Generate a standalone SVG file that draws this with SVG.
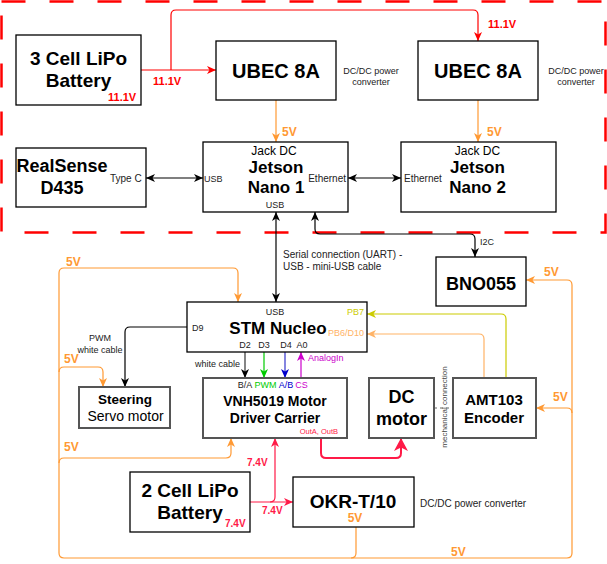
<svg xmlns="http://www.w3.org/2000/svg" width="607" height="564" viewBox="0 0 607 564">
<defs>
<style>
text{font-family:"Liberation Sans",Arial,sans-serif;}
.box{fill:#fff;stroke:#000;stroke-width:1.3;}
.gbox{fill:#fff;stroke:#555;stroke-width:2;}
.t{font-weight:bold;fill:#000;text-anchor:middle;}
.s{font-size:10px;fill:#222;}
.s9{font-size:9px;fill:#222;}
.v5{font-size:12px;font-weight:bold;fill:#FF9933;}
.vr{font-size:11px;font-weight:bold;fill:#FF0000;}
.vc{font-size:10px;font-weight:bold;fill:#FF1A47;}
.ln{fill:none;stroke-width:1.2;}
</style>
<marker id="aK" markerUnits="userSpaceOnUse" markerWidth="10" markerHeight="8" refX="9" refY="4" orient="auto-start-reverse"><path d="M0,0 L9,4 L0,8 L2.5,4 Z" fill="#000"/></marker>
<marker id="aR" markerUnits="userSpaceOnUse" markerWidth="10" markerHeight="8" refX="9" refY="4" orient="auto-start-reverse"><path d="M0,0 L9,4 L0,8 L2.5,4 Z" fill="#FF0000"/></marker>
<marker id="aC" markerUnits="userSpaceOnUse" markerWidth="10" markerHeight="8" refX="9" refY="4" orient="auto-start-reverse"><path d="M0,0 L9,4 L0,8 L2.5,4 Z" fill="#FF1A47"/></marker>
<marker id="aCb" markerUnits="userSpaceOnUse" markerWidth="14" markerHeight="14" refX="13" refY="7" orient="auto-start-reverse"><path d="M0,0 L13,7 L0,14 L3.5,7 Z" fill="#FF1A47"/></marker>
<marker id="aO" markerUnits="userSpaceOnUse" markerWidth="10" markerHeight="8" refX="9" refY="4" orient="auto-start-reverse"><path d="M0,0 L9,4 L0,8 L2.5,4 Z" fill="#FF9933"/></marker>
<marker id="aL" markerUnits="userSpaceOnUse" markerWidth="10" markerHeight="8" refX="9" refY="4" orient="auto-start-reverse"><path d="M0,0 L9,4 L0,8 L2.5,4 Z" fill="#FFB366"/></marker>
<marker id="aY" markerUnits="userSpaceOnUse" markerWidth="10" markerHeight="8" refX="9" refY="4" orient="auto-start-reverse"><path d="M0,0 L9,4 L0,8 L2.5,4 Z" fill="#CCCC00"/></marker>
<marker id="aG" markerUnits="userSpaceOnUse" markerWidth="10" markerHeight="8" refX="9" refY="4" orient="auto-start-reverse"><path d="M0,0 L9,4 L0,8 L2.5,4 Z" fill="#00CC00"/></marker>
<marker id="aB" markerUnits="userSpaceOnUse" markerWidth="10" markerHeight="8" refX="9" refY="4" orient="auto-start-reverse"><path d="M0,0 L9,4 L0,8 L2.5,4 Z" fill="#0000CC"/></marker>
<marker id="aM" markerUnits="userSpaceOnUse" markerWidth="10" markerHeight="8" refX="9" refY="4" orient="auto-start-reverse"><path d="M0,0 L9,4 L0,8 L2.5,4 Z" fill="#CC00CC"/></marker>
</defs>
<rect width="607" height="564" fill="#fff"/>

<!-- dashed boundary -->
<rect id="boundary" x="1.5" y="1.5" width="604" height="231" fill="none" stroke="#FF0000" stroke-width="2.5" stroke-dasharray="24 24"/>

<g id="connectors">
  <!-- red 11.1V -->
  <path class="ln" stroke="#FF0000" d="M141,70 H216" marker-end="url(#aR)"/>
  <path class="ln" stroke="#FF0000" d="M171,70 V15 Q171,10 176,10 H473 Q478,10 478,15 V41" marker-end="url(#aR)"/>
  <!-- orange 5V top -->
  <path class="ln" stroke="#FF9933" d="M276,100 V142" marker-end="url(#aO)"/>
  <path class="ln" stroke="#FF9933" d="M478,100 V142" marker-end="url(#aO)"/>
  <!-- black -->
  <path class="ln" stroke="#000" d="M146,178 H203" marker-start="url(#aK)" marker-end="url(#aK)"/>
  <path class="ln" stroke="#000" d="M348,178 H401" marker-start="url(#aK)" marker-end="url(#aK)"/>
  <path class="ln" stroke="#000" d="M276,212 V302" marker-start="url(#aK)" marker-end="url(#aK)"/>
  <path class="ln" stroke="#000" d="M315,212 V229 Q315,234 320,234 H470 Q475,234 475,239 V257" marker-start="url(#aK)" marker-end="url(#aK)"/>
  <path class="ln" stroke="#000" d="M187,327 H130 Q125,327 125,332 V387" marker-end="url(#aK)"/>
  <path class="ln" stroke="#333" d="M245,352 V378" marker-end="url(#aK)"/>
  <path class="ln" stroke="#00CC00" d="M264,352 V378" marker-end="url(#aG)"/>
  <path class="ln" stroke="#3333CC" d="M285,352 V378" marker-end="url(#aB)"/>
  <path class="ln" stroke="#CC00CC" d="M301,378 V352" marker-end="url(#aM)"/>
  <!-- encoder outputs -->
  <path class="ln" stroke="#CCCC00" d="M506,378 V319 Q506,314 501,314 H367" marker-end="url(#aY)"/>
  <path class="ln" stroke="#FFB366" d="M484,378 V339 Q484,334 479,334 H367" marker-end="url(#aL)"/>
  <!-- mechanical -->
  <path class="ln" stroke="#666" stroke-dasharray="3 3" d="M434,408 H453"/>
  <!-- orange 5V loop -->
  <path class="ln" stroke="#FF9933" d="M356,527 V553 Q356,558 351,558 H64 Q59,558 59,553 V273 Q59,268 64,268 H233 Q238,268 238,273 V302" marker-end="url(#aO)"/>
  <path class="ln" stroke="#FF9933" d="M351,558 H567 Q572,558 572,553 V285 Q572,280 567,280 H526" marker-end="url(#aO)"/>
  <path class="ln" stroke="#FF9933" d="M572,413 Q572,408 567,408 H536" marker-end="url(#aO)"/>
  <path class="ln" stroke="#FF9933" d="M59,372 Q59,367 64,367 H98 Q103,367 103,372 V387" marker-end="url(#aO)"/>
  <path class="ln" stroke="#FF9933" d="M59,463 Q59,458 64,458 H226 Q231,458 231,453 V438" marker-end="url(#aO)"/>
  <!-- 7.4V -->
  <path class="ln" stroke="#FF1A47" d="M250,502 H293" marker-end="url(#aC)"/>
  <path class="ln" stroke="#FF1A47" d="M270,502 Q275,502 275,497 V438" marker-end="url(#aC)"/>
  <!-- OutA OutB -->
  <path fill="none" stroke="#FF1A47" stroke-width="2" d="M321,438 V453 Q321,458 326,458 H396 Q401,458 401,453 V438" marker-end="url(#aCb)"/>

  <!-- connector labels -->
  <text class="vr" x="153" y="85">11.1V</text>
  <text class="vr" x="488" y="28">11.1V</text>
  <text class="v5" x="282" y="136">5V</text>
  <text class="v5" x="487" y="136">5V</text>
  <text class="s" x="283" y="257.5">Serial connection (UART) -</text>
  <text class="s" x="283" y="269.5">USB - mini-USB cable</text>
  <text class="s9" x="480" y="245">I2C</text>
  <text class="s9" x="100" y="341" text-anchor="middle">PWM</text>
  <text class="s9" x="100" y="352.5" text-anchor="middle">white cable</text>
  <text class="s9" x="240" y="367" text-anchor="end">white cable</text>
  <text class="s9" x="308" y="361" style="fill:#CC00CC">AnalogIn</text>
  <text x="447" y="407" font-size="8" fill="#444" text-anchor="middle" transform="rotate(-90 447 407)">mechanical connection</text>
  <text class="v5" x="66" y="266">5V</text>
  <text class="v5" x="64" y="363">5V</text>
  <text class="v5" x="64" y="451">5V</text>
  <text class="v5" x="544" y="276">5V</text>
  <text class="v5" x="553" y="401">5V</text>
  <text class="v5" x="451" y="556">5V</text>
  <text class="vc" x="247" y="466">7.4V</text>
  <text class="vc" x="262" y="514">7.4V</text>
</g>

<g id="battery3">
  <rect class="box" x="16" y="35" width="125" height="70"/>
  <text class="t" x="78.5" y="65" font-size="19">3 Cell LiPo</text>
  <text class="t" x="78.5" y="87" font-size="19">Battery</text>
  <text class="vr" x="108" y="101">11.1V</text>
</g>

<g id="ubec1">
  <rect class="box" x="216" y="41" width="120" height="59"/>
  <text class="t" x="276" y="78" font-size="20">UBEC 8A</text>
  <text class="s9" x="371" y="74" text-anchor="middle">DC/DC power</text>
  <text class="s9" x="371" y="85" text-anchor="middle">converter</text>
</g>

<g id="ubec2">
  <rect class="box" x="418" y="41" width="120" height="59"/>
  <text class="t" x="478" y="78" font-size="20">UBEC 8A</text>
  <text class="s9" x="576" y="74" text-anchor="middle">DC/DC power</text>
  <text class="s9" x="576" y="85" text-anchor="middle">converter</text>
</g>

<g id="realsense">
  <rect class="box" x="16" y="148" width="130" height="59"/>
  <text class="t" x="62" y="172" font-size="18">RealSense</text>
  <text class="t" x="62" y="194" font-size="18">D435</text>
  <text class="s" x="110" y="181.5">Type C</text>
</g>

<g id="jetson1">
  <rect class="box" x="203" y="142" width="145" height="70"/>
  <text x="274" y="155" font-size="12" text-anchor="middle" fill="#000">Jack DC</text>
  <text class="t" x="276" y="173" font-size="17">Jetson</text>
  <text class="t" x="276" y="193" font-size="17">Nano 1</text>
  <text class="s9" x="275" y="207.5" text-anchor="middle">USB</text>
  <text class="s9" x="204" y="181.5">USB</text>
  <text class="s" x="346" y="181.5" text-anchor="end">Ethernet</text>
</g>

<g id="jetson2">
  <rect class="box" x="401" y="142" width="155" height="70"/>
  <text x="477.5" y="155" font-size="12" text-anchor="middle" fill="#000">Jack DC</text>
  <text class="t" x="477.5" y="173" font-size="17">Jetson</text>
  <text class="t" x="477.5" y="193" font-size="17">Nano 2</text>
  <text class="s" x="404" y="181.5">Ethernet</text>
</g>

<g id="bno055">
  <rect class="box" x="436" y="257" width="90" height="49"/>
  <text class="t" x="481" y="289.5" font-size="18">BNO055</text>
</g>

<g id="stm">
  <rect class="box" x="187" y="302" width="180" height="50"/>
  <text class="s9" x="275" y="314.5" text-anchor="middle">USB</text>
  <text class="t" x="278" y="333.5" font-size="17">STM Nucleo</text>
  <text class="s9" x="192" y="330.5">D9</text>
  <text class="s9" x="245" y="348" text-anchor="middle">D2</text>
  <text class="s9" x="264" y="348" text-anchor="middle">D3</text>
  <text class="s9" x="286" y="348" text-anchor="middle">D4</text>
  <text class="s9" x="302" y="348" text-anchor="middle">A0</text>
  <text x="364" y="315" font-size="9" text-anchor="end" fill="#CCCC00">PB7</text>
  <text x="364" y="336" font-size="9" text-anchor="end" fill="#FFB366">PB6/D10</text>
</g>

<g id="servo">
  <rect class="gbox" x="79" y="387" width="91" height="41"/>
  <text class="t" x="125" y="404" font-size="13.5">Steering</text>
  <text x="125.5" y="421" font-size="14" text-anchor="middle" fill="#000">Servo motor</text>
</g>

<g id="vnh5019">
  <rect class="gbox" x="203" y="378" width="144" height="60"/>
  <text x="245" y="387.5" font-size="9" text-anchor="middle" fill="#222">B/A</text>
  <text x="265.5" y="387.5" font-size="9" text-anchor="middle" fill="#00CC00">PWM</text>
  <text x="286" y="387.5" font-size="9" text-anchor="middle" fill="#0000CC">A/B</text>
  <text x="301.5" y="387.5" font-size="9" text-anchor="middle" fill="#CC00CC">CS</text>
  <text class="t" x="275" y="406" font-size="14">VNH5019 Motor</text>
  <text class="t" x="275" y="423" font-size="14">Driver Carrier</text>
  <text x="338" y="433.5" font-size="7.5" text-anchor="end" fill="#FF1A47">OutA, OutB</text>
</g>

<g id="dcmotor">
  <rect class="gbox" x="369" y="378" width="65" height="60"/>
  <text class="t" x="401.5" y="403" font-size="18">DC</text>
  <text class="t" x="401.5" y="425" font-size="18">motor</text>
</g>

<g id="amt103">
  <rect class="gbox" x="453" y="378" width="83" height="60"/>
  <text class="t" x="494" y="405" font-size="15">AMT103</text>
  <text class="t" x="494" y="423" font-size="15">Encoder</text>
</g>

<g id="battery2">
  <rect class="box" x="130" y="472" width="120" height="60"/>
  <text class="t" x="190" y="497" font-size="19">2 Cell LiPo</text>
  <text class="t" x="190" y="519" font-size="19">Battery</text>
  <text class="vc" x="225" y="527">7.4V</text>
</g>

<g id="okr">
  <rect class="box" x="293" y="477" width="121" height="50"/>
  <text class="t" x="353" y="508" font-size="19">OKR-T/10</text>
  <text class="v5" x="355" y="522" text-anchor="middle">5V</text>
  <text class="s" x="420" y="507">DC/DC power converter</text>
</g>
</svg>
